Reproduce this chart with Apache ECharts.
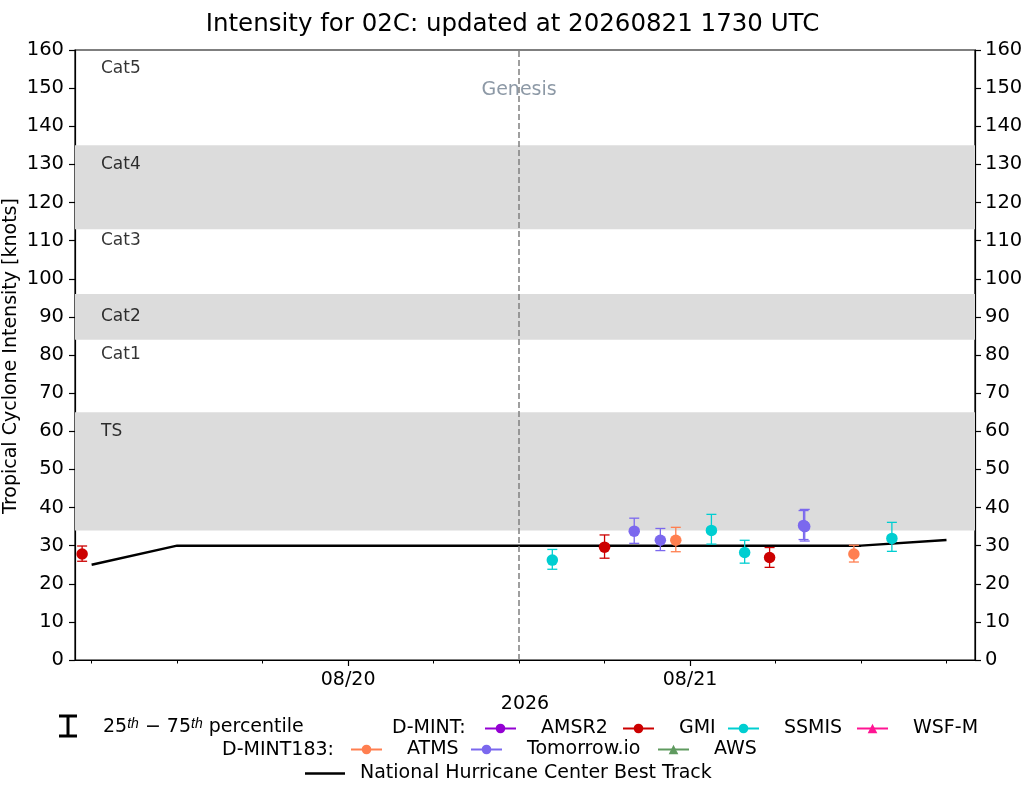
<!DOCTYPE html>
<html>
<head>
<meta charset="utf-8">
<title>Intensity for 02C</title>
<script src="https://cdn.jsdelivr.net/npm/echarts@6/dist/echarts.min.js"></script>
<style>
  html, body { margin: 0; padding: 0; background: #fff; }
  #chart { width: 1025px; height: 785px; }
</style>
</head>
<body>
<div id="chart"></div>
<script>
// -----------------------------------------
// DATA
// -----------------------------------------
const bestTrackTime = ['2026-08-19 06:00', '2026-08-19 12:00', '2026-08-19 18:00', '2026-08-20 00:00',
  '2026-08-20 06:00', '2026-08-20 12:00', '2026-08-20 18:00', '2026-08-21 00:00',
  '2026-08-21 06:00', '2026-08-21 12:00', '2026-08-21 18:00'];
const bestTrackKt = [25, 30, 30, 30, 30, 30, 30, 30, 30, 30, 31.5];

const gmiTime = ['2026-08-19 05:20', '2026-08-20 18:00', '2026-08-21 05:35'];
const gmiKt = [27.8, 29.6, 26.9];
const gmiP25 = [25.9, 26.7, 24.3];
const gmiP75 = [29.9, 32.8, 29.5];

const ssmisTime = ['2026-08-20 14:20', '2026-08-21 01:30', '2026-08-21 03:50', '2026-08-21 14:10'];
const ssmisKt = [26.2, 34.0, 28.2, 31.9];
const ssmisP25 = [23.8, 30.4, 25.4, 28.5];
const ssmisP75 = [29.0, 38.2, 31.4, 36.1];

const tioTime = ['2026-08-20 20:05', '2026-08-20 21:55', '2026-08-21 07:58', '2026-08-21 08:03'];
const tioKt = [33.8, 31.4, 35.3, 35.0];
const tioP25 = [30.6, 28.7, 31.6, 31.2];
const tioP75 = [37.2, 34.5, 39.2, 39.5];

const atmsTime = ['2026-08-20 23:00', '2026-08-21 11:30'];
const atmsKt = [31.4, 27.8];
const atmsP25 = [28.4, 25.7];
const atmsP75 = [34.8, 30.1];

// shaded category bands (knots)
const bandLow = [34, 84, 113];
const bandHigh = [65, 96, 135];

// category labels
const catNames = ['Cat5', 'Cat4', 'Cat3', 'Cat2', 'Cat1', 'TS'];
const catKt = [155, 130, 110, 90, 80, 60];

const genesisTime = '2026-08-20 12:00';
const xMinTime = '2026-08-19 04:50';
const xMaxTime = '2026-08-21 20:00';
const majorTickTimes = ['2026-08-20 00:00', '2026-08-21 00:00'];
const minorTickTimes = ['2026-08-19 06:00', '2026-08-19 12:00', '2026-08-19 18:00',
  '2026-08-20 06:00', '2026-08-20 12:00', '2026-08-20 18:00',
  '2026-08-21 06:00', '2026-08-21 12:00', '2026-08-21 18:00'];

// -----------------------------------------
// HELPERS
// -----------------------------------------
function t(s) {
  const [d, hm] = s.split(' ');
  const [y, mo, da] = d.split('-').map(Number);
  const [h, mi] = hm.split(':').map(Number);
  return Date.UTC(y, mo - 1, da, h, mi);
}

const FONT = 'DejaVu Sans';

function pointSeries(name, color, times, kt, symbol) {
  return {
    name: name,
    type: 'line',
    data: times.map((s, i) => [t(s), kt[i]]),
    symbol: symbol || 'circle',
    symbolSize: 11.5,
    showSymbol: true,
    showAllSymbol: true,
    lineStyle: { width: 0, color: color },
    itemStyle: { color: color },
    emphasis: { disabled: true },
    z: 5
  };
}

function errorSeries(color, times, lo, hi) {
  return {
    type: 'custom',
    silent: true,
    z: 4,
    itemStyle: { color: color },
    data: times.map((s, i) => [t(s), lo[i], hi[i]]),
    renderItem: (params, api) => {
      const a = api.coord([api.value(0), api.value(1)]);
      const b = api.coord([api.value(0), api.value(2)]);
      const w = 5;
      const style = { stroke: color, lineWidth: 1.3 };
      return {
        type: 'group',
        children: [
          { type: 'line', shape: { x1: a[0], y1: a[1], x2: b[0], y2: b[1] }, style },
          { type: 'line', shape: { x1: a[0] - w, y1: a[1], x2: a[0] + w, y2: a[1] }, style },
          { type: 'line', shape: { x1: b[0] - w, y1: b[1], x2: b[0] + w, y2: b[1] }, style }
        ]
      };
    }
  };
}

function fmtDay(v) {
  const d = new Date(v);
  const mm = String(d.getUTCMonth() + 1).padStart(2, '0');
  const dd = String(d.getUTCDate()).padStart(2, '0');
  return mm + '/' + dd;
}

// legend placement (pixels of the icon's left edge / vertical centre)
const legendRows = [
  ['AMSR2', 484, 725],
  ['GMI', 622, 725],
  ['SSMIS', 727, 725],
  ['WSF-M', 856, 725],
  ['ATMS', 350, 746],
  ['Tomorrow.io', 470, 746],
  ['AWS', 657, 746]
];

const legends = legendRows.map(([name, left, cy]) => ({
  data: [name],
  left: left,
  top: cy - 6,
  padding: 0,
  orient: 'horizontal',
  itemWidth: 31,
  itemHeight: 12,
  selectedMode: false,
  lineStyle: { width: 2 },
  textStyle: { fontFamily: FONT, fontSize: 19, color: '#000', padding: [0, 0, 0, 20] }
}));

// best track legend: plain line, no marker
legends.push({
  data: [{ name: 'National Hurricane Center Best Track', icon: 'rect' }],
  left: 305,
  top: 764,
  padding: 0,
  itemWidth: 40,
  itemHeight: 2.5,
  selectedMode: false,
  itemStyle: { color: '#000' },
  textStyle: { fontFamily: FONT, fontSize: 19, color: '#000', padding: [0, 0, 0, 10] }
});

// -----------------------------------------
// CHART
// -----------------------------------------
const chart = echarts.init(document.getElementById('chart'), null, { renderer: 'canvas' });

const option = {
  animation: false,
  backgroundColor: '#fff',
  title: {
    text: 'Intensity for 02C: updated at 20260821 1730 UTC',
    left: 'center',
    top: 7,
    textStyle: { fontFamily: FONT, fontSize: 24.5, fontWeight: 'normal', color: '#000' }
  },
  grid: {
    left: 75, right: 50, top: 50, bottom: 125,
    outerBoundsMode: 'none',
    containLabel: false,
    show: true, borderColor: '#000', borderWidth: 1.2, backgroundColor: 'transparent'
  },
  legend: legends,
  xAxis: [
    {
      type: 'value',
      min: t(xMinTime),
      max: t(xMaxTime),
      name: '2026',
      nameLocation: 'middle',
      nameGap: 35,
      nameTextStyle: { fontFamily: FONT, fontSize: 19, color: '#000' },
      axisLine: { show: true, onZero: false, lineStyle: { color: '#000', width: 1.2 } },
      axisTick: { show: true, length: 6, lineStyle: { color: '#000', width: 1.2 },
        customValues: majorTickTimes.map(t) },
      axisLabel: { show: true, fontFamily: FONT, fontSize: 19, color: '#000', margin: 11,
        customValues: majorTickTimes.map(t), formatter: fmtDay },
      splitLine: { show: false }
    },
    {
      type: 'value',
      min: t(xMinTime),
      max: t(xMaxTime),
      position: 'bottom',
      axisLine: { show: false, onZero: false },
      axisTick: { show: true, length: 3.5, lineStyle: { color: '#000', width: 1 },
        customValues: minorTickTimes.map(t) },
      axisLabel: { show: false },
      splitLine: { show: false }
    }
  ],
  yAxis: [
    {
      type: 'value',
      min: 0, max: 160, interval: 10,
      position: 'left',
      axisLine: { show: true, onZero: false, lineStyle: { color: '#000', width: 1.2 } },
      axisTick: { show: true, length: 6, lineStyle: { color: '#000', width: 1.2 } },
      axisLabel: { fontFamily: FONT, fontSize: 19.5, color: '#000', margin: 11 },
      splitLine: { show: false }
    },
    {
      type: 'value',
      min: 0, max: 160, interval: 10,
      position: 'right',
      axisLine: { show: true, onZero: false, lineStyle: { color: '#000', width: 1.2 } },
      axisTick: { show: true, length: 6, lineStyle: { color: '#000', width: 1.2 } },
      axisLabel: { fontFamily: FONT, fontSize: 19.5, color: '#000', margin: 10 },
      splitLine: { show: false }
    }
  ],
  graphic: [
    // y-axis title
    {
      type: 'text', x: 11, y: 356, rotation: Math.PI / 2,
      style: {
        text: 'Tropical Cyclone Intensity [knots]',
        font: '19px "DejaVu Sans"', fill: '#000', align: 'center', verticalAlign: 'middle'
      }
    },
    // 25th-75th percentile legend glyph
    { type: 'line', shape: { x1: 68, y1: 716, x2: 68, y2: 736 }, style: { stroke: '#000', lineWidth: 3 } },
    { type: 'line', shape: { x1: 59, y1: 716, x2: 77, y2: 716 }, style: { stroke: '#000', lineWidth: 3 } },
    { type: 'line', shape: { x1: 59, y1: 736, x2: 77, y2: 736 }, style: { stroke: '#000', lineWidth: 3 } },
    {
      type: 'text', left: 103, top: 717,
      style: {
        text: '25{s|th} \u2212 75{s|th} percentile',
        font: '19px "DejaVu Sans"', fill: '#000',
        rich: { s: { fontSize: 14, fontStyle: 'italic', verticalAlign: 'top', padding: [0, 0, 6, 0] } }
      }
    },
    { type: 'text', left: 392, top: 719, style: { text: 'D-MINT:', font: '19px "DejaVu Sans"', fill: '#000' } },
    { type: 'text', left: 222, top: 741, style: { text: 'D-MINT183:', font: '19px "DejaVu Sans"', fill: '#000' } }
  ],
  series: [
    {
      name: 'National Hurricane Center Best Track',
      type: 'line',
      data: bestTrackTime.map((s, i) => [t(s), bestTrackKt[i]]),
      symbol: 'none',
      lineStyle: { color: '#000', width: 2.5 },
      itemStyle: { color: '#000' },
      emphasis: { disabled: true },
      z: 3,
      markArea: {
        silent: true,
        itemStyle: { color: '#dcdcdc' },
        data: bandLow.map((lo, i) => [{ yAxis: lo }, { yAxis: bandHigh[i] }])
      },
      markLine: {
        silent: true,
        symbol: 'none',
        label: { show: false },
        lineStyle: { color: '#808080', type: [6, 3], width: 1.5 },
        data: [{ xAxis: t(genesisTime) }]
      }
    },
    // category labels + genesis text
    {
      type: 'scatter',
      silent: true,
      symbolSize: 0,
      z: 6,
      data: catNames.map((n, i) => ({ value: [t(xMinTime), catKt[i]], name: n })),
      label: {
        show: true, position: 'right', distance: 26,
        formatter: p => p.name,
        fontFamily: FONT, fontSize: 17, color: '#000'
      }
    },
    {
      type: 'scatter',
      silent: true,
      symbolSize: 0,
      z: 6,
      data: [{ value: [t(genesisTime), 149.5], name: 'Genesis' }],
      label: {
        show: true, position: 'inside',
        formatter: p => p.name,
        fontFamily: FONT, fontSize: 19, color: '#708090'
      }
    },
    errorSeries('#cc0000', gmiTime, gmiP25, gmiP75),
    errorSeries('#00ced1', ssmisTime, ssmisP25, ssmisP75),
    errorSeries('#7b68ee', tioTime, tioP25, tioP75),
    errorSeries('#ff7f50', atmsTime, atmsP25, atmsP75),
    pointSeries('AMSR2', '#9400d3', [], []),
    pointSeries('GMI', '#cc0000', gmiTime, gmiKt),
    pointSeries('SSMIS', '#00ced1', ssmisTime, ssmisKt),
    pointSeries('WSF-M', '#ff1493', [], [], 'triangle'),
    pointSeries('ATMS', '#ff7f50', atmsTime, atmsKt),
    pointSeries('Tomorrow.io', '#7b68ee', tioTime, tioKt),
    pointSeries('AWS', '#5f9a5f', [], [], 'triangle')
  ]
};

chart.setOption(option);
</script>
</body>
</html>
